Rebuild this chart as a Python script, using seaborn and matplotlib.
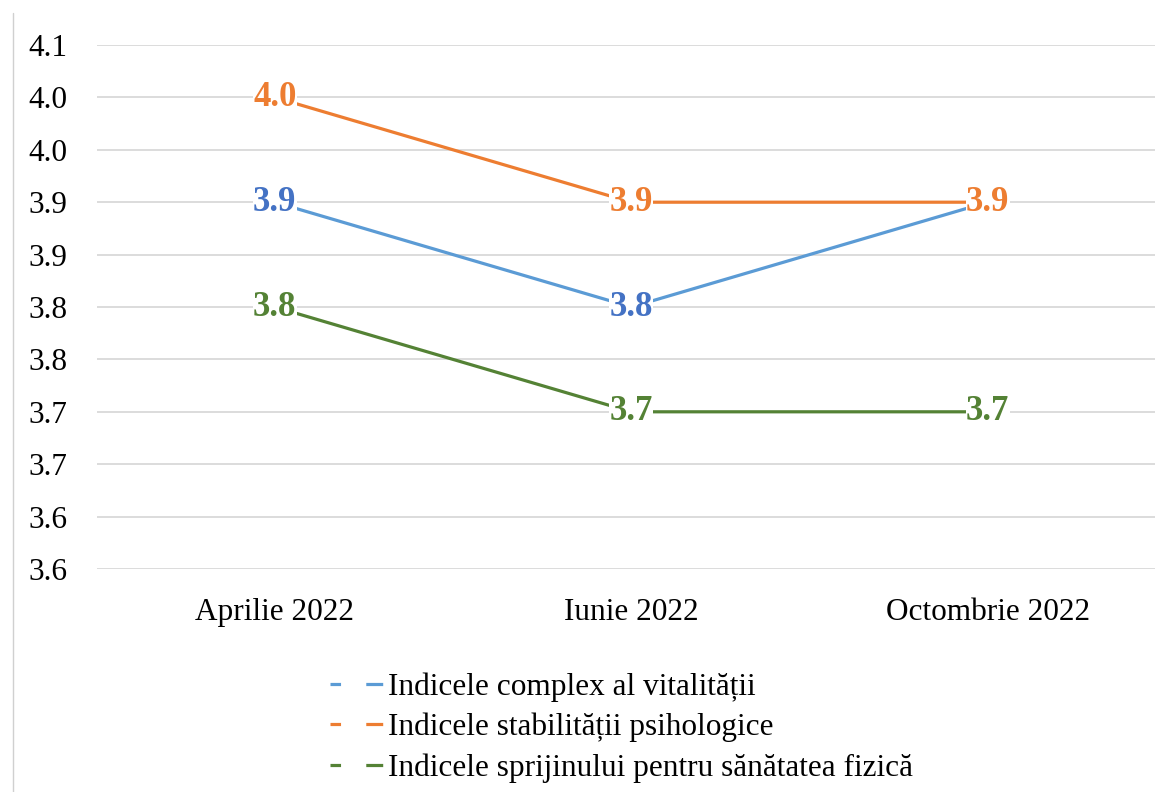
import numpy as np
import pandas as pd
import seaborn as sns
import matplotlib.pyplot as plt
from matplotlib.lines import Line2D

# data
months = ["Aprilie 2022", "Iunie 2022", "Octombrie 2022"]
series_names = ["Indicele complex al vitalității",
                "Indicele stabilității psihologice",
                "Indicele sprijinului pentru sănătatea fizică"]
vitalitate = [3.9, 3.8, 3.9]
stabilitate = [4.0, 3.9, 3.9]
sprijin = [3.8, 3.7, 3.7]
y_ticks = [3.55, 3.60, 3.65, 3.70, 3.75, 3.80, 3.85, 3.90, 3.95, 4.00, 4.05]
y_tick_labels = ["3.6", "3.6", "3.7", "3.7", "3.8", "3.8", "3.9", "3.9", "4.0", "4.0", "4.1"]

line_colors = ["#5B9BD5", "#ED7D31", "#548235"]
label_colors = ["#4472C4", "#ED7D31", "#548235"]

df = pd.DataFrame({
    "luna": months * 3,
    "x": list(range(len(months))) * 3,
    "valoare": vitalitate + stabilitate + sprijin,
    "indice": [s for s in series_names for _ in months],
})

sns.set_style("white")
plt.rcParams["font.family"] = ["Liberation Serif", "DejaVu Serif"]
plt.rcParams["text.color"] = "black"
plt.rcParams["xtick.color"] = "black"
plt.rcParams["ytick.color"] = "black"

fig = plt.figure(figsize=(11.55, 7.92), dpi=100)
ax = fig.add_axes([96.5 / 1155, 1 - 569 / 792, (1166 - 96.5) / 1155, (569 - 45) / 792])

sns.lineplot(data=df, x="x", y="valoare", hue="indice", palette=line_colors,
             linewidth=2.3, ax=ax, legend=False, zorder=3)

# data labels
for vals, col in zip([vitalitate, stabilitate, sprijin], label_colors):
    for i, v in enumerate(vals):
        ax.text(i, v, f"{v:.1f}", ha="center", va="center", color=col,
                fontsize=25, fontweight="bold", zorder=5,
                bbox=dict(facecolor="white", edgecolor="none", pad=0.3))

ax.set_xlim(-0.5, 2.5)
ax.set_ylim(3.55, 4.05)
ax.set_yticks(y_ticks)
ax.set_yticklabels(y_tick_labels)
ax.set_xticks(range(len(months)))
ax.set_xticklabels(months)
ax.tick_params(axis="y", length=0, pad=21, labelsize=22.5)
ax.tick_params(axis="x", length=0, pad=21, labelsize=22.5)
ax.set_xlabel("")
ax.set_ylabel("")
ax.grid(axis="y", color="#D9D9D9", linewidth=1.3)
ax.set_axisbelow(True)
for sp in ax.spines.values():
    sp.set_visible(False)

# chart border on the left
fig.add_artist(Line2D([13 / 1155, 13 / 1155], [0, 1 - 13 / 792],
                      transform=fig.transFigure, color="#D0D0D0", linewidth=1))

handles = [Line2D([0], [0], color=c, linewidth=2.3, dashes=(3.3, 7.9, 5.3, 100))
           for c in line_colors]
fig.legend(handles, series_names, loc="upper left",
           bbox_to_anchor=(330 / 1155, 1 - 672 / 792), frameon=False,
           fontsize=22.5, handlelength=1.7, handletextpad=0.15,
           labelspacing=0.36, borderpad=0, borderaxespad=0)

fig.savefig("out.png", dpi=100)
